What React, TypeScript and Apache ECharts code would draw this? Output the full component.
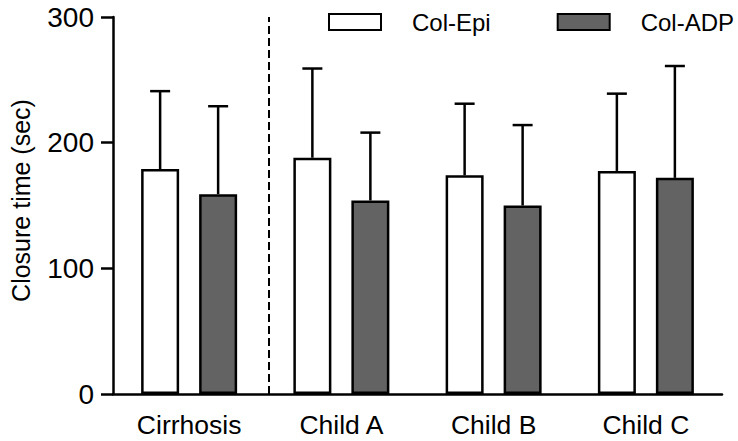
import React, { useEffect, useRef } from "react";
import * as echarts from "echarts";

const categories = ["Cirrhosis", "Child A", "Child B", "Child C"];
const seriesNames = ["Col-Epi", "Col-ADP"];
const epiMean = [179, 188, 174, 177.5];
const epiSD = [62, 71, 57, 61.5];
const adpMean = [159, 154, 150, 172];
const adpSD = [70, 54, 64, 89];
const yTicks = [0, 100, 200, 300];
const separatorAt = 0.515; // position of dashed divider, in category-index units

const BAR_W = 38;
const BAR_GAP = 20;
const FONT = "'Liberation Sans', Arial, Helvetica, sans-serif";

export default function App() {
  const ref = useRef<HTMLDivElement>(null);
  useEffect(() => {
    if (!ref.current) return;
    const chart = echarts.init(ref.current, null, { renderer: "svg" });
    const offset = (BAR_W + BAR_GAP) / 2;
    const errSeries = (name: string, means: number[], sds: number[], dir: number) => ({
      type: "custom",
      name,
      xAxisIndex: 0,
      yAxisIndex: 0,
      z: 5,
      silent: true,
      encode: { x: 0, y: 1 },
      data: means.map((m, i) => [i, m, sds[i]]),
      renderItem: (params: any, api: any) => {
        const ci = api.value(0);
        const m = api.value(1);
        const s = api.value(2);
        const base = api.coord([ci, m]);
        const top = api.coord([ci, m + s]);
        const x = base[0] + dir * offset;
        const st = { stroke: "#000", lineWidth: 2.5, fill: null };
        return {
          type: "group",
          children: [
            { type: "line", shape: { x1: x, y1: base[1], x2: x, y2: top[1] }, style: st },
            { type: "line", shape: { x1: x - 10, y1: top[1], x2: x + 10, y2: top[1] }, style: st },
          ],
        };
      },
    });
    chart.setOption({
      animation: false,
      textStyle: { fontFamily: FONT, color: "#000" },
      grid: { left: 109, right: 16, top: 17, bottom: 47 },
      legend: {
        data: seriesNames,
        left: 328,
        top: 10,
        padding: 0,
        icon: "rect",
        itemWidth: 52,
        itemHeight: 16,
        itemGap: 66,
        textStyle: { fontSize: 24, color: "#000", fontFamily: FONT, padding: [0, 0, 0, 26] },
      },
      xAxis: [
        {
          type: "category",
          data: categories,
          axisLine: { lineStyle: { color: "#000", width: 2.5 } },
          axisTick: { alignWithLabel: true, length: 13, lineStyle: { color: "#000", width: 2.5 } },
          axisLabel: { fontSize: 26.5, color: "#000", margin: 17, fontFamily: FONT },
        },
        {
          type: "value",
          min: -0.5,
          max: 3.5,
          show: false,
        },
      ],
      yAxis: {
        type: "value",
        min: yTicks[0],
        max: yTicks[yTicks.length - 1],
        interval: 100,
        name: "Closure time (sec)",
        nameLocation: "middle",
        nameGap: 80,
        nameTextStyle: { fontSize: 25, color: "#000", fontFamily: FONT, padding: [0, 0, 0, 10] },
        splitLine: { show: false },
        axisLine: { show: true, onZero: false, lineStyle: { color: "#000", width: 2.5 } },
        axisTick: { show: true, length: 12, lineStyle: { color: "#000", width: 2.5 } },
        axisLabel: { fontSize: 28, color: "#000", margin: 19, fontFamily: FONT },
      },
      series: [
        {
          type: "bar",
          name: seriesNames[0],
          data: epiMean,
          barWidth: BAR_W,
          barGap: (BAR_GAP / BAR_W) * 100 + "%",
          itemStyle: { color: "#ffffff", borderColor: "#000", borderWidth: 2.5 },
        },
        {
          type: "bar",
          name: seriesNames[1],
          data: adpMean,
          barWidth: BAR_W,
          barGap: (BAR_GAP / BAR_W) * 100 + "%",
          itemStyle: { color: "#636363", borderColor: "#000", borderWidth: 2.5 },
        },
        errSeries("epi-err", epiMean, epiSD, -1),
        errSeries("adp-err", adpMean, adpSD, 1),
        {
          type: "line",
          name: "divider",
          xAxisIndex: 1,
          data: [],
          markLine: {
            silent: true,
            symbol: "none",
            label: { show: false },
            lineStyle: { color: "#000", width: 2, type: [8, 4] },
            data: [{ xAxis: separatorAt }],
          },
        },
      ],
    });
    return () => chart.dispose();
  }, []);
  return (
    <div
      ref={ref}
      style={{ position: "fixed", left: 0, top: 0, width: 738, height: 441, background: "#fff" }}
    />
  );
}
